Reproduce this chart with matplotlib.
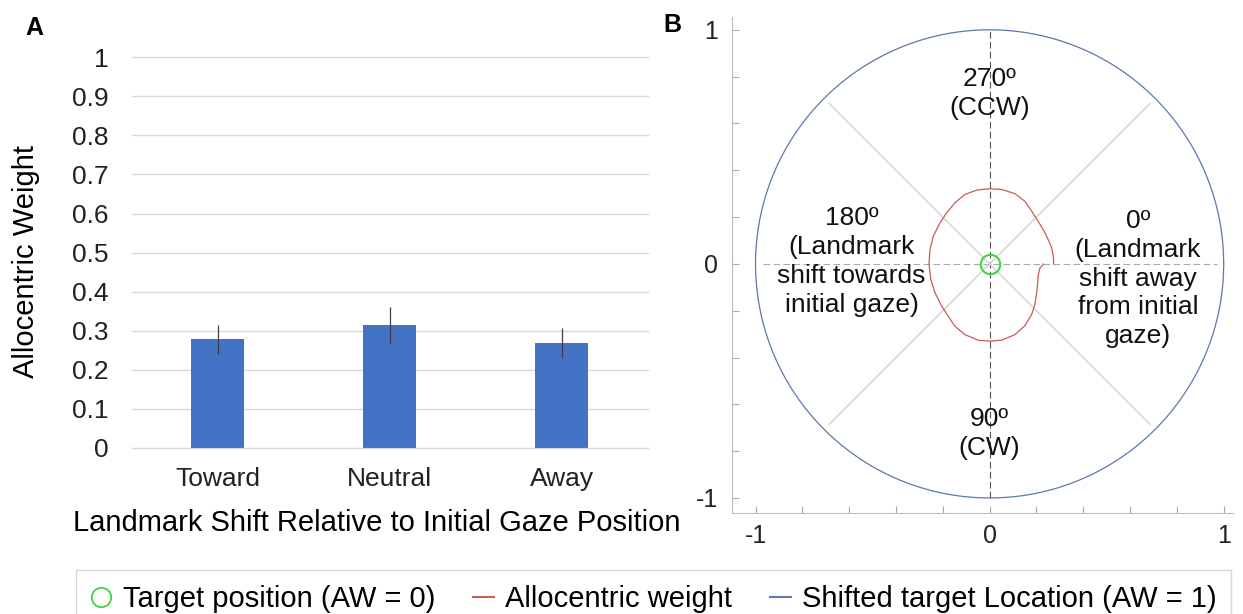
import numpy as np
import matplotlib
matplotlib.use("Agg")
import matplotlib.pyplot as plt

plt.rcParams['font.family'] = ['Liberation Sans', 'DejaVu Sans']

# panel A data
categories = ['Toward', 'Neutral', 'Away']
aw_mean = [0.278, 0.314, 0.269]
aw_err = [0.037, 0.047, 0.039]

# panel B data: allocentric weight by landmark shift direction (deg, 0 = away, 90 = CW)
shift_deg = [0, 0.7, 4.5, 12.4, 21.6, 31.7, 41.9, 50.3, 60.2, 70.3, 81.1, 90, 98.4,
             109.2, 119.1, 128.3, 138.6, 152, 165, 180, 193.5, 206.2, 219.5, 229.9,
             240.4, 250.4, 260, 270, 279.2, 289.8, 299.4, 308.6, 316.2, 327.4, 337.5,
             345.5, 353.1, 358.5, 360]
shift_aw = [0.229, 0.229, 0.216, 0.213, 0.221, 0.236, 0.260, 0.281, 0.304, 0.321,
            0.330, 0.330, 0.330, 0.320, 0.305, 0.285, 0.273, 0.264, 0.260, 0.259,
            0.262, 0.268, 0.275, 0.285, 0.300, 0.315, 0.320, 0.321, 0.322, 0.319,
            0.307, 0.288, 0.278, 0.272, 0.271, 0.274, 0.274, 0.274, 0.272]

bar_col = '#4472C4'
red = '#cc5a55'
blue = '#5f78ad'
green = '#3ed83e'

fig = plt.figure(figsize=(12.43, 6.14), dpi=100)

# ---------- panel A
ax = fig.add_axes([0.106, 0.2704, 0.415, 0.6363])
x = np.arange(len(categories))
ax.bar(x, aw_mean, width=0.31, color=bar_col, zorder=2)
ax.errorbar(x, aw_mean, yerr=aw_err, fmt='none', ecolor='#404040', elinewidth=0.9, capsize=0, zorder=3)
ax.set_xlim(-0.5, 2.5)
ax.set_ylim(0, 1.0)
ax.set_yticks(np.arange(0, 1.01, 0.1))
ax.set_yticklabels(['0', '0.1', '0.2', '0.3', '0.4', '0.5', '0.6', '0.7', '0.8', '0.9', '1'])
ax.set_xticks(x)
ax.set_xticklabels(categories)
ax.grid(axis='y', color='#d9d9d9', linewidth=1, zorder=0)
for gl in ax.get_ygridlines():
    gl.set_clip_on(False)
for s in ['top', 'right', 'left']:
    ax.spines[s].set_visible(False)
ax.spines['bottom'].set_color('#d9d9d9')
ax.tick_params(axis='both', length=0, labelsize=19, colors='#222222')
ax.tick_params(axis='x', pad=14)
ax.tick_params(axis='y', pad=17)
ax.set_ylabel('Allocentric Weight', fontsize=21)
ax.yaxis.set_label_coords(-0.205, 0.478)
ax.yaxis.label.set_va('center')
ax.set_xlabel('Landmark Shift Relative to Initial Gaze Position', fontsize=21)
ax.xaxis.set_label_coords(0.475, -0.192)
ax.xaxis.label.set_va('center')
fig.text(0.028, 0.955, 'A', fontsize=18, fontweight='bold', ha='center', va='center')

# ---------- panel B
bx = fig.add_axes([0.589, 0.163, 0.403, 0.811])
bx.set_xlim(-1.10, 1.04)
bx.set_ylim(-1.064, 1.055)
bx.set_aspect('equal')

th = np.linspace(0, 2 * np.pi, 400)
bx.plot(np.cos(th), np.sin(th), color=blue, lw=0.9, zorder=3)

# guide lines
bx.plot([0, 0], [-1, 1], color='#555555', lw=0.8, ls=(0, (6, 3)), zorder=1)
bx.plot([-0.97, 0.97], [0, 0], color='#aaaaaa', lw=0.8, ls=(0, (6, 3)), zorder=1)
for ang in [45, 135, 225, 315]:
    a = np.deg2rad(ang)
    bx.plot([0, 0.97 * np.cos(a)], [0, 0.97 * np.sin(a)], color='#cccccc', lw=0.9, zorder=1)

rad = np.deg2rad(shift_deg)
r = np.array(shift_aw)
bx.plot(r * np.cos(rad), -r * np.sin(rad), color=red, lw=0.9, zorder=4)
bx.plot([0], [0], 'o', ms=14, mfc='none', mec=green, mew=1.5, zorder=5)

bx.set_xticks(np.arange(-1, 1.01, 0.2))
bx.set_yticks(np.arange(-1, 1.01, 0.2))
lbl = ['-1', '', '', '', '', '0', '', '', '', '', '1']
bx.set_xticklabels(lbl)
bx.set_yticklabels(lbl)
bx.tick_params(direction='in', length=5, color='#aaaaaa', labelsize=18, labelcolor='#222222')
bx.tick_params(axis='x', pad=8)
bx.tick_params(axis='y', pad=10)
for s in ['top', 'right']:
    bx.spines[s].set_visible(False)
for s in ['left', 'bottom']:
    bx.spines[s].set_color('#bbbbbb')

tk = dict(fontsize=19, ha='center', va='center', linespacing=1.25, color='#111111')
bx.text(0, 0.728, '270º\n(CCW)', **tk)
bx.text(-0.59, 0.01, '180º\n(Landmark\nshift towards\ninitial gaze)', **tk)
bx.text(0.633, -0.063, '0º\n(Landmark\nshift away\nfrom initial\ngaze)', **tk)
bx.text(0, -0.726, '90º\n(CW)', **tk)
fig.text(0.541, 0.96, 'B', fontsize=18, fontweight='bold', ha='center', va='center')

# ---------- legend
h1, = bx.plot([], [], 'o', ms=14, mfc='none', mec=green, mew=1.3, label='Target position (AW = 0)')
h2, = bx.plot([], [], color=red, lw=1.5, label='Allocentric weight')
h3, = bx.plot([], [], color=blue, lw=1.5, label='Shifted target Location (AW = 1)')
leg = fig.legend(handles=[h1, h2, h3], loc='upper center', bbox_to_anchor=(0.526, 0.071),
                 ncol=3, fontsize=21, frameon=True, fancybox=False, edgecolor='#cccccc',
                 handlelength=0.7, handletextpad=0.4, columnspacing=1.3, borderpad=0.5,
                 borderaxespad=0)
leg.get_frame().set_linewidth(1)

fig.savefig('out.png', dpi=100)
